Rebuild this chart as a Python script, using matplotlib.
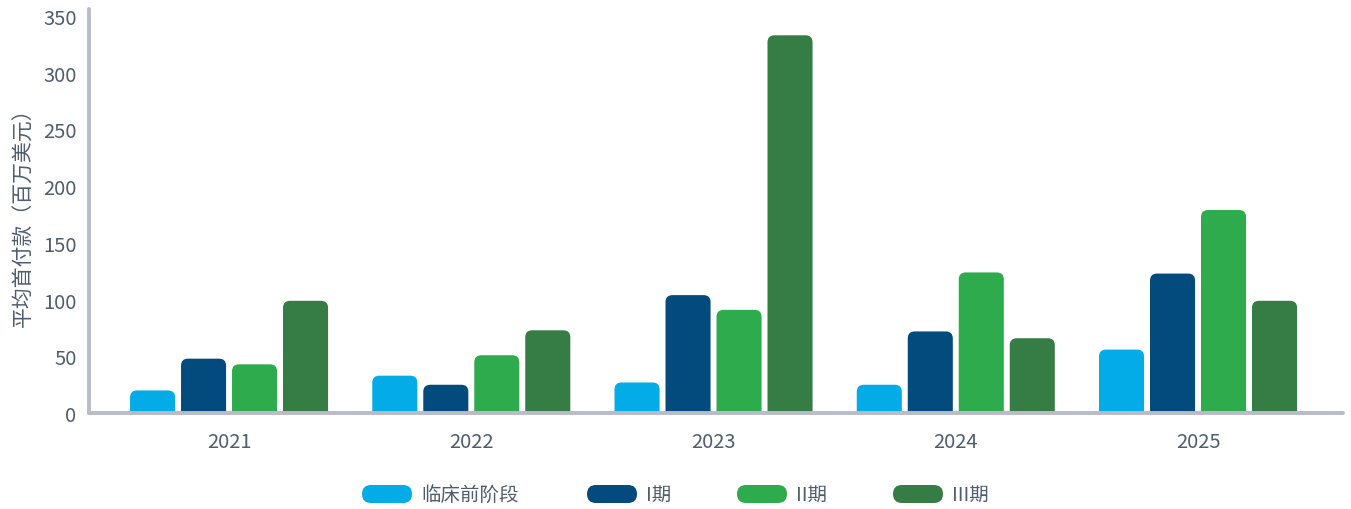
import matplotlib
matplotlib.use("Agg")
import matplotlib.pyplot as plt
from matplotlib.patches import FancyBboxPatch
import numpy as np

plt.rcParams['font.family'] = ['Noto Sans CJK SC', 'DejaVu Sans']

years = ["2021", "2022", "2023", "2024", "2025"]
phases = ["临床前阶段", "I期", "II期", "III期"]
preclinical = [20, 33, 27, 25, 56]
phase1 = [48, 25, 104, 72, 123]
phase2 = [43, 51, 91, 124, 179]
phase3 = [99, 73, 333, 66, 99]
series = [preclinical, phase1, phase2, phase3]
colors = ["#03ace6", "#034b7c", "#2eab4c", "#357c45"]

text_color = "#4f5d70"
axis_color = "#b9bcc8"

fig = plt.figure(figsize=(13.51, 5.10), dpi=100)
ax = fig.add_axes([0.0659, 0.188, 0.9281, 0.792])

xlim = (-0.578, 4.598)
ylim = (0, 356)
ax.set_xlim(*xlim)
ax.set_ylim(*ylim)

# px per data unit, used to keep corner radii circular
ax_w_px = 0.9281 * 1351
ax_h_px = 0.792 * 510
px_x = ax_w_px / (xlim[1] - xlim[0])
px_y = ax_h_px / (ylim[1] - ylim[0])
radius_px = 7
aspect = px_x / px_y

bar_w = 0.186
step = 0.2105
x = np.arange(len(years))
for i, (vals, col) in enumerate(zip(series, colors)):
    offs = (i - 1.5) * step
    for xi, v in zip(x, vals):
        left = xi + offs - bar_w / 2
        bottom = -20
        p = FancyBboxPatch((left, bottom), bar_w, v - bottom,
                           boxstyle=f"round,pad=0,rounding_size={radius_px / px_x}",
                           mutation_aspect=aspect,
                           facecolor=col, edgecolor="none", zorder=2)
        ax.add_patch(p)

ax.set_xticks(x)
ax.set_xticklabels(years)
ax.set_yticks(np.arange(0, 351, 50))
ax.tick_params(axis='both', length=0, labelsize=14.5, colors=text_color)
ax.tick_params(axis='y', pad=9)
ax.tick_params(axis='x', pad=13)

for s in ["top", "right"]:
    ax.spines[s].set_visible(False)
for s in ["left", "bottom"]:
    ax.spines[s].set_color(axis_color)
    ax.spines[s].set_linewidth(2.8)
    ax.spines[s].set_capstyle("round")
    ax.spines[s].set_zorder(3)

ax.set_ylabel("平均首付款（百万美元）", fontsize=15, color=text_color, labelpad=6)

# legend with pill-shaped swatches
leg_x = [362, 587, 737, 893]
leg_y = 495
for lx, lab, col in zip(leg_x, phases, colors):
    pw, ph = 50, 18
    sw = FancyBboxPatch((lx / 1351, (510 - leg_y - ph / 2) / 510), pw / 1351, ph / 510,
                        boxstyle=f"round,pad=0,rounding_size={(ph / 2) / 1351}",
                        mutation_aspect=1351 / 510,
                        transform=fig.transFigure, facecolor=col, edgecolor="none")
    fig.patches.append(sw)
    fig.text((lx + pw + 9) / 1351, (510 - leg_y) / 510, lab, fontsize=14,
             color=text_color, va="center", ha="left")

fig.savefig("out.png", dpi=100)
